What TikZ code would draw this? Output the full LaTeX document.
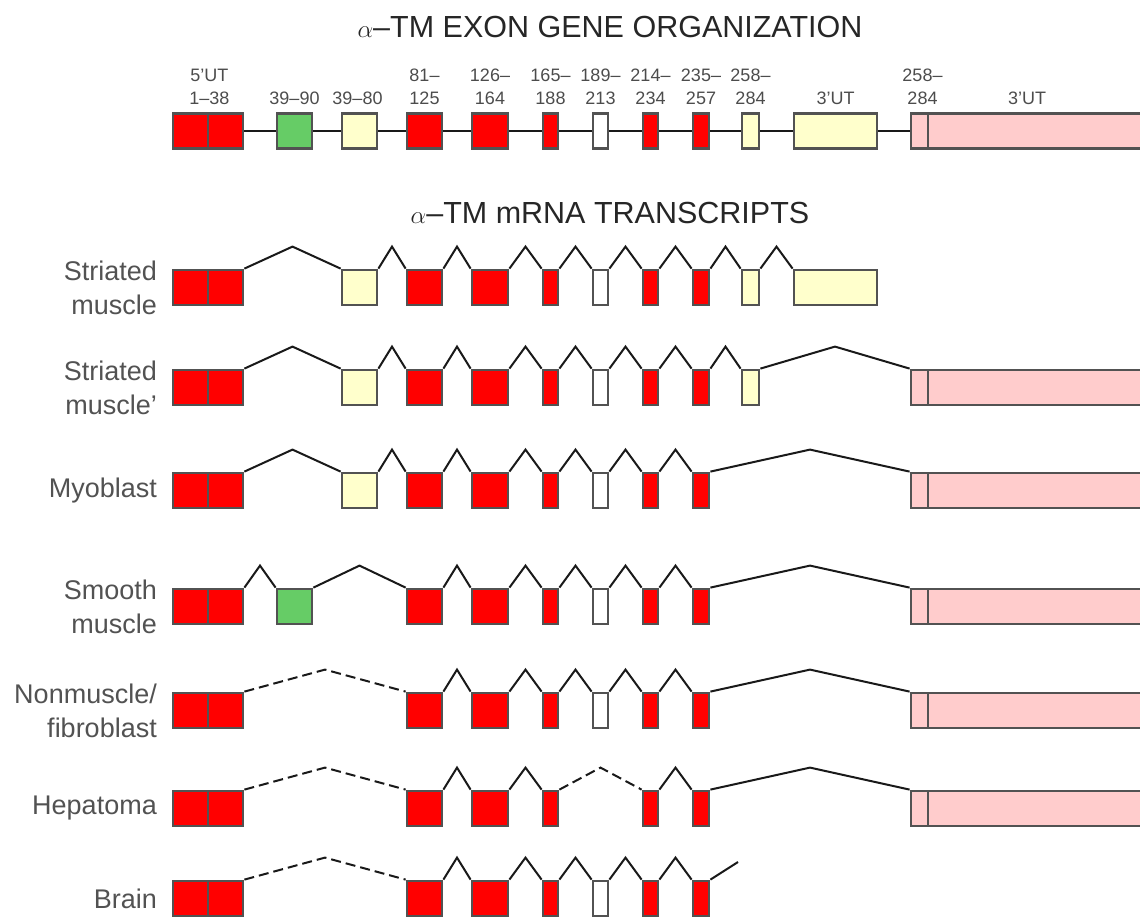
\documentclass[tikz,border=0pt]{standalone}
\usepackage{fontspec}
\setmainfont{Liberation Sans}
\usetikzlibrary{calc,positioning}
\definecolor{exred}{RGB}{255,0,0}
\definecolor{exgreen}{RGB}{102,204,102}
\definecolor{exyellow}{RGB}{255,255,204}
\definecolor{expink}{RGB}{255,204,204}
\newcommand{\splice}[3][]{\draw[intron,#1] (#2.north east) -- ($(#2.north east)!0.5!(#3.north west)+(0,-22)$) -- (#3.north west);}

\tikzset{
  exon/.style={draw=black!68, line width=2.8pt, inner sep=0pt, minimum height=35pt},
  intron/.style={line width=2pt, black!90},
  skipped/.style={dash pattern=on 10pt off 5pt},
  numlbl/.style={align=center, inner sep=0pt, text=black!70, font=\fontsize{18}{23}\selectfont},
  rowlbl/.style={anchor=east, align=right, inner sep=0pt, text=black!68, font=\fontsize{27}{34}\selectfont},
  headlbl/.style={inner sep=0pt, text=black!85, font=\fontsize{30.5}{36}\selectfont},
  colA/.style={exon, fill=exred, minimum width=35pt, at={(190.5,\rowy)}},
  colB/.style={exon, fill=exred, minimum width=35pt, at={(225.5,\rowy)}},
  colC/.style={exon, fill=exgreen, minimum width=35pt, at={(294.5,\rowy)}},
  colD/.style={exon, fill=exyellow, minimum width=35pt, at={(359.5,\rowy)}},
  colE/.style={exon, fill=exred, minimum width=35pt, at={(424.5,\rowy)}},
  colF/.style={exon, fill=exred, minimum width=36pt, at={(490,\rowy)}},
  colG/.style={exon, fill=exred, minimum width=15pt, at={(550.5,\rowy)}},
  colH/.style={exon, fill=white, minimum width=15pt, at={(600.5,\rowy)}},
  colI/.style={exon, fill=exred, minimum width=15pt, at={(650.5,\rowy)}},
  colJ/.style={exon, fill=exred, minimum width=16pt, at={(701,\rowy)}},
  colK/.style={exon, fill=exyellow, minimum width=17pt, at={(750.5,\rowy)}},
  colL/.style={exon, fill=exyellow, minimum width=83pt, at={(835.5,\rowy)}},
  colM/.style={exon, fill=expink, minimum width=17pt, at={(919.5,\rowy)}},
  colN/.style={exon, fill=expink, minimum width=232pt, at={(1044,\rowy)}},
}

\begin{document}
\begin{tikzpicture}[x=1pt,y=-1pt]
\useasboundingbox (0,0) rectangle (1140,916);

% gene organization
\node[headlbl] (title) at (610,27) {$\alpha$–TM EXON GENE ORGANIZATION};
\def\rowy{131}
\foreach \c in {A,B,C,D,E,F,G,H,I,J,K,L,M,N} \node[col\c] (g\c) {};
\foreach \a/\b in {B/C,C/D,D/E,E/F,F/G,G/H,H/I,I/J,J/K,K/L,L/M}
  \draw[intron] (g\a.east) -- (g\b.west);
\node[numlbl, anchor=south, above=7pt of gA.north east] (nAB) {5’UT\\1–38};
\node[numlbl, anchor=south, above=7pt of gC] (nC) {39–90};
\node[numlbl, anchor=south, above=7pt of gD, xshift=-2pt] (nD) {39–80};
\node[numlbl, anchor=south, above=7pt of gE] (nE) {81–\\125};
\node[numlbl, anchor=south, above=7pt of gF] (nF) {126–\\164};
\node[numlbl, anchor=south, above=7pt of gG] (nG) {165–\\188};
\node[numlbl, anchor=south, above=7pt of gH] (nH) {189–\\213};
\node[numlbl, anchor=south, above=7pt of gI] (nI) {214–\\234};
\node[numlbl, anchor=south, above=7pt of gJ] (nJ) {235–\\257};
\node[numlbl, anchor=south, above=7pt of gK] (nK) {258–\\284};
\node[numlbl, anchor=south, above=7pt of gL] (nL) {3’UT};
\node[numlbl, anchor=south, above=7pt of gM, xshift=3pt] (nM) {258–\\284};
\node[numlbl, anchor=south, above=7pt of gN, xshift=-17pt] (nN) {3’UT};

% transcripts
\node[headlbl] (subtitle) at (610,213) {$\alpha$–TM mRNA TRANSCRIPTS};

\def\rowy{287.5}
\node[rowlbl] (lbl1) at (157,\rowy) {Striated\\muscle};
\foreach \c in {A,B,D,E,F,G,H,I,J,K,L} \node[col\c] (r1\c) {};
\foreach \a/\b in {B/D,D/E,E/F,F/G,G/H,H/I,I/J,J/K,K/L} {\splice{r1\a}{r1\b}}

\def\rowy{387.5}
\node[rowlbl] (lbl2) at (157,\rowy) {Striated\\muscle’};
\foreach \c in {A,B,D,E,F,G,H,I,J,K,M,N} \node[col\c] (r2\c) {};
\foreach \a/\b in {B/D,D/E,E/F,F/G,G/H,H/I,I/J,J/K,K/M} {\splice{r2\a}{r2\b}}

\def\rowy{490.5}
\node[rowlbl] (lbl3) at (157,\rowy) {Myoblast};
\foreach \c in {A,B,D,E,F,G,H,I,J,M,N} \node[col\c] (r3\c) {};
\foreach \a/\b in {B/D,D/E,E/F,F/G,G/H,H/I,I/J,J/M} {\splice{r3\a}{r3\b}}

\def\rowy{606.5}
\node[rowlbl] (lbl4) at (157,\rowy) {Smooth\\muscle};
\foreach \c in {A,B,C,E,F,G,H,I,J,M,N} \node[col\c] (r4\c) {};
\foreach \a/\b in {B/C,C/E,E/F,F/G,G/H,H/I,I/J,J/M} {\splice{r4\a}{r4\b}}

\def\rowy{710.5}
\node[rowlbl] (lbl5) at (157,\rowy) {Nonmuscle/\\fibroblast};
\foreach \c in {A,B,E,F,G,H,I,J,M,N} \node[col\c] (r5\c) {};
\splice[skipped]{r5B}{r5E}
\foreach \a/\b in {E/F,F/G,G/H,H/I,I/J,J/M} {\splice{r5\a}{r5\b}}

\def\rowy{808.5}
\node[rowlbl] (lbl6) at (157,\rowy) {Hepatoma};
\foreach \c in {A,B,E,F,G,I,J,M,N} \node[col\c] (r6\c) {};
\splice[skipped]{r6B}{r6E}
\splice[skipped]{r6G}{r6I}
\foreach \a/\b in {E/F,F/G,I/J,J/M} {\splice{r6\a}{r6\b}}

\def\rowy{898.5}
\node[rowlbl] (lbl7) at (157,\rowy) {Brain};
\foreach \c in {A,B,E,F,G,H,I,J} \node[col\c] (r7\c) {};
\splice[skipped]{r7B}{r7E}
\foreach \a/\b in {E/F,F/G,G/H,H/I,I/J} {\splice{r7\a}{r7\b}}
\coordinate (brainend) at (738,862);
\draw[intron] (r7J.north east) -- (brainend);
\end{tikzpicture}
\end{document}
